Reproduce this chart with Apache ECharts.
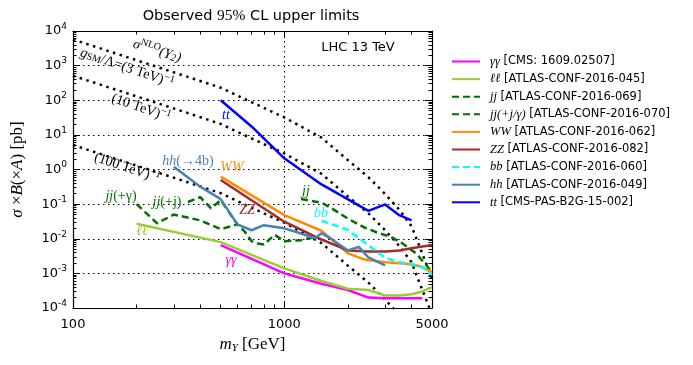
<!DOCTYPE html>
<html>
<head>
<meta charset="utf-8">
<script src="https://cdn.jsdelivr.net/npm/echarts@6/dist/echarts.min.js"></script>
<style>
html, body { margin: 0; background: #fff; }
#main { width: 693px; height: 365px; }
</style>
</head>
<body>
<div id="main"></div>
<script>
// masses in GeV, cross sections in pb
const dotMass = [100, 200, 300, 500, 700, 1000, 1500, 2000, 2500, 3000, 3500, 4000, 4500, 5000];
const sig3TeV = [5700, 1430, 640, 230, 88, 32, 8.3, 1.86, 0.6, 0.195, 0.069, 0.023, 0.0037, 0.00072];
const sig10TeV = [510, 129, 58, 20.7, 7.9, 2.9, 0.75, 0.167, 0.054, 0.0176, 0.0062, 0.0021, 0.00033, 0.000065];
const sig100TeV = [5.1, 1.29, 0.58, 0.207, 0.079, 0.029, 0.0075, 0.00167, 0.00054, 0.000176, 0.000062];

const aaMass = [500, 1000, 1500, 2000, 2500, 3000, 4500];
const aaVal = [0.0065, 0.001, 0.0005, 0.00033, 0.0002, 0.00019, 0.00019];

const llMass = [200, 500, 1000, 1500, 2000, 2500, 3000, 3500, 4000, 4500, 5000];
const llVal = [0.027, 0.008, 0.0014, 0.0006, 0.00036, 0.00033, 0.00023, 0.00023, 0.00025, 0.0003, 0.0004];

const jjMass = [1200, 1500, 1650, 2000, 2400, 2800, 3200, 3600, 4200, 5000];
const jjVal = [0.14, 0.11, 0.08, 0.038, 0.021, 0.0145, 0.0113, 0.0075, 0.0038, 0.0011];

const jjgMass = [200, 250, 300, 400, 500, 600];
const jjgVal = [0.1, 0.028, 0.05, 0.034, 0.019, 0.026];

const jjjMass = [350, 400, 450, 500, 600, 650, 700, 750, 800, 900, 1000, 1200, 1400];
const jjjVal = [0.115, 0.16, 0.075, 0.13, 0.026, 0.016, 0.0085, 0.0073, 0.0068, 0.013, 0.0085, 0.0091, 0.0113];

const wwMass = [500, 1000, 1500, 2000, 2400, 3000, 3800, 4400, 5000];
const wwVal = [0.62, 0.048, 0.017, 0.0038, 0.0025, 0.0021, 0.0019, 0.0016, 0.0011];

const zzMass = [500, 1000, 1500, 2000, 2500, 3000, 3500, 4000, 4500, 5000];
const zzVal = [0.5, 0.031, 0.0095, 0.0046, 0.0043, 0.0043, 0.0046, 0.0053, 0.006, 0.0065];

const bbMass = [1500, 2000, 2500, 3000, 3500, 4000, 4500, 5000];
const bbVal = [0.033, 0.018, 0.0065, 0.0028, 0.0021, 0.0019, 0.0015, 0.0009];

const hhMass = [300, 400, 500, 600, 700, 800, 1000, 1150, 1400, 1500, 1650, 2000, 2250, 2500, 3000];
const hhVal = [1.2, 0.32, 0.14, 0.026, 0.0176, 0.0246, 0.02, 0.0154, 0.0103, 0.0145, 0.0103, 0.0046, 0.0058, 0.0029, 0.0017];

const ttMass = [500, 700, 1000, 1500, 2500, 3000, 3500, 4000];
const ttVal = [100, 17.5, 2.1, 0.37, 0.064, 0.098, 0.048, 0.034];

const legendNames = ['γγ', 'ℓℓ', 'jj', 'jj(+j/γ)', 'WW', 'ZZ', 'bb', 'hh', 'tt'];
const legendRefs = ['[CMS: 1609.02507]', '[ATLAS-CONF-2016-045]', '[ATLAS-CONF-2016-069]',
  '[ATLAS-CONF-2016-070]', '[ATLAS-CONF-2016-062]', '[ATLAS-CONF-2016-082]',
  '[ATLAS-CONF-2016-060]', '[ATLAS-CONF-2016-049]', '[CMS-PAS-B2G-15-002]'];

const xMajor = [100, 1000];
const xLabels = [100, 1000, 5000];
const xMinor = [200, 300, 400, 500, 600, 700, 800, 900, 2000, 3000, 4000];
const yMajor = [1e-4, 1e-3, 1e-2, 1e-1, 1, 10, 100, 1000, 10000];
const yMinor = [];
for (let k = -4; k < 4; k++) {
    for (let j = 2; j < 10; j++) yMinor.push(j * Math.pow(10, k));
}

const serif = 'Liberation Serif';
const sans = 'DejaVu Sans';
const dotted = {type: [1.5, 3.5], color: '#000', width: 1};

function pairs(m, v) {
    return m.map(function (x, i) { return [x, v[i]]; });
}

function limLine(name, m, v, color, dashed) {
    return {
        name: name, type: 'line', data: pairs(m, v),
        symbol: 'none', clip: true, z: 3,
        lineStyle: {color: color, width: 2.5, type: dashed ? [7, 4] : 'solid'},
        itemStyle: {color: color}
    };
}

function nloLine(v) {
    return {
        type: 'line', data: pairs(dotMass.slice(0, v.length), v),
        symbol: 'none', clip: true, z: 2, silent: true,
        lineStyle: {color: '#000', width: 2.5, type: [2.5, 4.5]}
    };
}

function xAx(ticks, len, major) {
    return {
        type: 'log', logBase: 10, min: 100, max: 5000, gridIndex: 0,
        axisLine: {show: major, lineStyle: {color: '#000', width: 1.2}},
        axisTick: {show: true, inside: true, length: len, customValues: ticks, lineStyle: {color: '#000'}},
        axisLabel: {show: false},
        splitLine: {show: false}
    };
}
function yAx(ticks, len, major) {
    return {
        type: 'log', logBase: 10, min: 1e-4, max: 1e4, gridIndex: 0,
        axisLine: {show: major, lineStyle: {color: '#000', width: 1.2}},
        axisTick: {show: true, inside: true, length: len, customValues: ticks, lineStyle: {color: '#000'}},
        axisLabel: {show: false},
        splitLine: {show: false}
    };
}

const xBottom = xAx(xMajor, 7, true);
xBottom.position = 'bottom';
xBottom.axisLabel = {
    show: true, customValues: xLabels, color: '#000', fontFamily: sans, fontSize: 13, margin: 10,
    formatter: function (v) { return String(v); }
};
xBottom.splitLine = {show: true, lineStyle: dotted};
xBottom.name = '{i|m}{s|Y} [GeV]';
xBottom.nameLocation = 'middle';
xBottom.nameGap = 28;
xBottom.nameTextStyle = {
    fontFamily: serif, fontSize: 17, color: '#000',
    rich: {i: {fontFamily: serif, fontStyle: 'italic', fontSize: 17}, s: {fontFamily: serif, fontStyle: 'italic', fontSize: 11, padding: [7, 0, 0, 0]}}
};
const xTop = xAx(xMajor, 7, true);
xTop.position = 'top';
const xMinB = xAx(xMinor, 3.5, false);
xMinB.position = 'bottom';
const xMinT = xAx(xMinor, 3.5, false);
xMinT.position = 'top';

const yLeft = yAx(yMajor, 7, true);
yLeft.position = 'left';
yLeft.axisLabel = {
    show: true, customValues: yMajor, color: '#000', margin: 6,
    formatter: function (v) { return '{b|10}{s|' + Math.round(Math.log10(v)) + '}'; },
    rich: {
        b: {fontFamily: sans, fontSize: 13, color: '#000'},
        s: {fontFamily: sans, fontSize: 9, color: '#000', verticalAlign: 'bottom', padding: [0, 0, 9, 0]}
    }
};
yLeft.splitLine = {show: true, lineStyle: dotted};
yLeft.name = '{i|σ} ×{i|B}(×{i|A}) [pb]';
yLeft.nameLocation = 'middle';
yLeft.nameGap = 47;
yLeft.nameTextStyle = {
    fontFamily: serif, fontSize: 17, color: '#000',
    rich: {i: {fontFamily: serif, fontStyle: 'italic', fontSize: 17}}
};
const yRight = yAx(yMajor, 7, true);
yRight.position = 'right';
const yMinL = yAx(yMinor, 3.5, false);
yMinL.position = 'left';
const yMinR = yAx(yMinor, 3.5, false);
yMinR.position = 'right';

const series = [
    nloLine(sig3TeV), nloLine(sig10TeV), nloLine(sig100TeV),
    limLine('γγ', aaMass, aaVal, '#ff00ff', false),
    limLine('ℓℓ', llMass, llVal, '#9acd32', false),
    limLine('jj', jjMass, jjVal, '#007000', true),
    limLine('jj(+j/γ)', jjgMass, jjgVal, '#007000', true),
    limLine('jj(+j/γ)', jjjMass, jjjVal, '#007000', true),
    limLine('WW', wwMass, wwVal, '#ff8c00', false),
    limLine('ZZ', zzMass, zzVal, '#a52a2a', false),
    limLine('bb', bbMass, bbVal, '#00ffff', true),
    limLine('hh', hhMass, hhVal, '#4682b4', false),
    limLine('tt', ttMass, ttVal, '#0000ff', false)
];

function note(text, x, y, color, rot) {
    return {
        type: 'text', x: x, y: y, rotation: rot || 0, z: 10, silent: true,
        style: {
            text: text, fill: color, align: 'center', verticalAlign: 'middle',
            font: 'italic 14px "' + serif + '"',
            rich: {
                r: {fontFamily: serif, fontStyle: 'normal', fontSize: 14, fill: color},
                sup: {fontFamily: serif, fontStyle: 'normal', fontSize: 10, fill: color, verticalAlign: 'bottom', padding: [0, 0, 8, 0]},
                sub: {fontFamily: serif, fontStyle: 'normal', fontSize: 10, fill: color, verticalAlign: 'top', padding: [6, 0, 0, 0]},
                isub: {fontFamily: serif, fontStyle: 'italic', fontSize: 10, fill: color, verticalAlign: 'top', padding: [6, 0, 0, 0]}
            }
        }
    };
}

const chart = echarts.init(document.getElementById('main'));
chart.setOption({
    animation: false,
    backgroundColor: '#fff',
    grid: {left: 73, right: 261, top: 31, bottom: 57},
    xAxis: [xBottom, xTop, xMinB, xMinT],
    yAxis: [yLeft, yRight, yMinL, yMinR],
    legend: {
        data: legendNames,
        orient: 'vertical', left: 446, top: 50,
        itemWidth: 28, itemHeight: 12, itemGap: 4.6,
        itemStyle: {opacity: 0},
        formatter: function (name) {
            return '{m|' + name + '} ' + legendRefs[legendNames.indexOf(name)];
        },
        textStyle: {
            fontFamily: sans, fontSize: 11.5, color: '#000',
            rich: {m: {fontFamily: serif, fontStyle: 'italic', fontSize: 12.5, color: '#000', padding: [0, 0, 0, 5]}}
        }
    },
    graphic: [
        {
            type: 'text', x: 251, y: 16, silent: true,
            style: {
                text: 'Observed {n|95%} CL upper limits', align: 'center', verticalAlign: 'middle',
                font: '14.5px "' + sans + '"', fill: '#000',
                rich: {n: {fontFamily: serif, fontSize: 15.5, fill: '#000'}}
            }
        },
        {
            type: 'text', x: 358, y: 48, silent: true,
            style: {text: 'LHC 13 TeV', align: 'center', verticalAlign: 'middle', font: '13px "' + sans + '"', fill: '#000'}
        },
        note('σ{sup|NLO}(Y{isub|2})', 157, 51, '#000', -0.3),
        note('g{sub|SM}{r|/Λ=(3 TeV)}{sup|−1}', 127, 68, '#000', -0.33),
        note('{r|(10 TeV)}{sup|−1}', 141, 108, '#000', -0.33),
        note('{r|(100 TeV)}{sup|−1}', 127, 168, '#000', -0.33),
        note('tt', 226, 115, '#0000ff'),
        note('hh{r|(→4b)}', 188, 161, '#4682b4'),
        note('WW', 232, 167, '#ff8c00'),
        note('ZZ', 247, 210, '#a52a2a'),
        note('jj{r|(+γ)}', 121, 196, '#007000'),
        note('jj{r|(+j)}', 167, 202, '#007000'),
        note('ℓℓ', 142, 231, '#9acd32'),
        note('γγ', 231, 260, '#ff00ff'),
        note('jj', 306, 191, '#007000'),
        note('bb', 321, 213, '#00ffff')
    ],
    series: series
});
</script>
</body>
</html>
